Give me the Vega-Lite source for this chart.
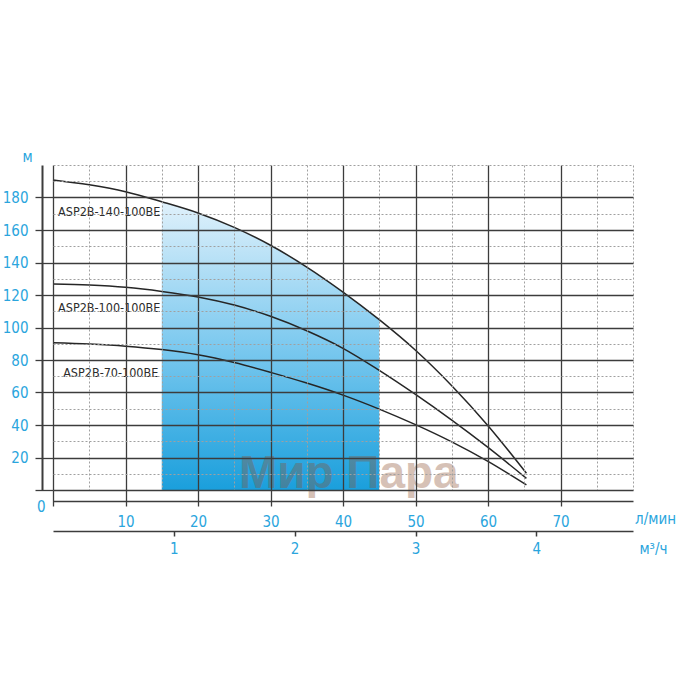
{
  "$schema": "https://vega.github.io/schema/vega-lite/v6.json",
  "width": 580,
  "height": 325,
  "autosize": "none",
  "padding": {"left": 53, "top": 165, "right": 67, "bottom": 210},
  "background": "white",
  "config": {
    "view": {"stroke": null},
    "font": "DejaVu Sans Condensed, Lato, sans-serif",
    "axis": {"labelFont": "DejaVu Sans Condensed, Lato, sans-serif", "titleFont": "DejaVu Sans Condensed, Lato, sans-serif"}
  },
  "datasets": {
    "curves": [
      {"model": "ASP2B-140-100BE", "q": 0, "h": 190.8},
      {"model": "ASP2B-140-100BE", "q": 5, "h": 187.8},
      {"model": "ASP2B-140-100BE", "q": 10, "h": 183.6},
      {"model": "ASP2B-140-100BE", "q": 15, "h": 177.4},
      {"model": "ASP2B-140-100BE", "q": 20, "h": 170.5},
      {"model": "ASP2B-140-100BE", "q": 25, "h": 161.6},
      {"model": "ASP2B-140-100BE", "q": 30, "h": 150.6},
      {"model": "ASP2B-140-100BE", "q": 35, "h": 137.2},
      {"model": "ASP2B-140-100BE", "q": 40, "h": 121.8},
      {"model": "ASP2B-140-100BE", "q": 45, "h": 104.8},
      {"model": "ASP2B-140-100BE", "q": 50, "h": 86.0},
      {"model": "ASP2B-140-100BE", "q": 55, "h": 64.2},
      {"model": "ASP2B-140-100BE", "q": 60, "h": 39.6},
      {"model": "ASP2B-140-100BE", "q": 65.3, "h": 10.3},
      {"model": "ASP2B-100-100BE", "q": 0, "h": 126.8},
      {"model": "ASP2B-100-100BE", "q": 5, "h": 126.1},
      {"model": "ASP2B-100-100BE", "q": 10, "h": 124.7},
      {"model": "ASP2B-100-100BE", "q": 15, "h": 122.2},
      {"model": "ASP2B-100-100BE", "q": 20, "h": 118.8},
      {"model": "ASP2B-100-100BE", "q": 25, "h": 113.8},
      {"model": "ASP2B-100-100BE", "q": 30, "h": 106.9},
      {"model": "ASP2B-100-100BE", "q": 35, "h": 98.0},
      {"model": "ASP2B-100-100BE", "q": 40, "h": 87.2},
      {"model": "ASP2B-100-100BE", "q": 45, "h": 73.6},
      {"model": "ASP2B-100-100BE", "q": 50, "h": 58.8},
      {"model": "ASP2B-100-100BE", "q": 55, "h": 43.0},
      {"model": "ASP2B-100-100BE", "q": 60, "h": 26.2},
      {"model": "ASP2B-100-100BE", "q": 65.3, "h": 7.2},
      {"model": "ASP2B-70-100BE", "q": 0, "h": 90.6},
      {"model": "ASP2B-70-100BE", "q": 5, "h": 89.8},
      {"model": "ASP2B-70-100BE", "q": 10, "h": 88.5},
      {"model": "ASP2B-70-100BE", "q": 15, "h": 86.4},
      {"model": "ASP2B-70-100BE", "q": 20, "h": 83.2},
      {"model": "ASP2B-70-100BE", "q": 25, "h": 78.4},
      {"model": "ASP2B-70-100BE", "q": 30, "h": 72.4},
      {"model": "ASP2B-70-100BE", "q": 35, "h": 65.8},
      {"model": "ASP2B-70-100BE", "q": 40, "h": 58.4},
      {"model": "ASP2B-70-100BE", "q": 45, "h": 49.8},
      {"model": "ASP2B-70-100BE", "q": 50, "h": 40.2},
      {"model": "ASP2B-70-100BE", "q": 55, "h": 29.6},
      {"model": "ASP2B-70-100BE", "q": 60, "h": 17.6},
      {"model": "ASP2B-70-100BE", "q": 65.3, "h": 3.1}
    ],
    "labels": [
      {"label": "ASP2B-140-100BE", "q": 0.7, "h": 171},
      {"label": "ASP2B-100-100BE", "q": 0.7, "h": 112},
      {"label": "ASP2B-70-100BE", "q": 1.4, "h": 72}
    ],
    "watermark": [
      {"text": "Мир Пара", "q": 40.8, "h": 1.2}
    ]
  },
  "layer": [
    {
      "encoding": {
        "x": {
          "field": "q", "type": "quantitative",
          "scale": {"domain": [0, 80], "nice": false, "zero": false},
          "axis": {
            "orient": "bottom",
            "zindex": 1,
            "values": [0, 5, 10, 15, 20, 25, 30, 35, 40, 45, 50, 55, 60, 65, 70, 75, 80],
            "domain": false,
            "grid": true,
            "gridColor": {"condition": {"test": "datum.value % 10 != 0 || datum.value == 80", "value": "#a0a0a0"}, "value": "#3c3c3c"},
            "gridDash": {"condition": {"test": "datum.value % 10 != 0 || datum.value == 80", "value": [2, 2]}, "value": []},
            "gridWidth": {"condition": {"test": "datum.value % 10 != 0 || datum.value == 80", "value": 1}, "value": 1.3},
            "gridOpacity": 1,
            "ticks": true,
            "tickSize": 16,
            "tickWidth": 1.3,
            "tickColor": "#3c3c3c",
            "tickOpacity": {"condition": {"test": "datum.value % 10 != 0 || datum.value == 80", "value": 0}, "value": 1},
            "labelExpr": "datum.value % 10 == 0 && datum.value > 0 && datum.value < 80 ? datum.label : ''",
            "labelOverlap": false,
            "labelFlush": false,
            "labelPadding": 8,
            "labelColor": "#2aa5dd",
            "labelFontSize": 15,
            "title": "л/мин",
            "titleColor": "#2aa5dd",
            "titleFontSize": 15,
            "titleFontWeight": "normal",
            "titleAlign": "center",
            "titleBaseline": "middle",
            "titleX": 602,
            "titleY": 28
          }
        },
        "y": {
          "field": "h", "type": "quantitative",
          "scale": {"domain": [0, 200], "nice": false},
          "axis": {
            "orient": "left",
            "zindex": 1,
            "values": [0, 10, 20, 30, 40, 50, 60, 70, 80, 90, 100, 110, 120, 130, 140, 150, 160, 170, 180, 190, 200],
            "domain": false,
            "grid": true,
            "gridColor": {"condition": {"test": "datum.value % 20 != 0 || datum.value == 200", "value": "#a0a0a0"}, "value": "#3c3c3c"},
            "gridDash": {"condition": {"test": "datum.value % 20 != 0 || datum.value == 200", "value": [2, 2]}, "value": []},
            "gridWidth": {"condition": {"test": "datum.value % 20 != 0 || datum.value == 200", "value": 1}, "value": 1.3},
            "gridOpacity": 1,
            "ticks": true,
            "tickSize": 18,
            "tickWidth": 1.3,
            "tickColor": "#3c3c3c",
            "tickOpacity": {"condition": {"test": "datum.value % 20 != 0 || datum.value == 200", "value": 0}, "value": 1},
            "labelExpr": "datum.value % 20 == 0 && datum.value < 200 ? datum.label : ''",
            "labelOverlap": false,
            "labelFlush": false,
            "labelPadding": {"condition": {"test": "datum.value == 0", "value": -10}, "value": 7},
            "labelOffset": {"condition": {"test": "datum.value == 0", "value": 16}, "value": 0},
            "labelColor": "#2aa5dd",
            "labelFontSize": 15,
            "title": "м",
            "titleColor": "#2aa5dd",
            "titleFontSize": 15,
            "titleFontWeight": "normal",
            "titleAngle": 0,
            "titleAlign": "center",
            "titleBaseline": "middle",
            "titleX": -26,
            "titleY": -9
          }
        }
      },
      "layer": [
        {
          "data": {"name": "curves"},
          "transform": [{"filter": "datum.model == 'ASP2B-140-100BE' && datum.q >= 15 && datum.q <= 45"}],
          "mark": {
            "type": "area",
            "interpolate": "catmull-rom",
            "fill": {
              "gradient": "linear", "x1": 0, "y1": 0, "x2": 0, "y2": 1,
              "stops": [
                {"offset": 0, "color": "#e0f1fb"},
                {"offset": 0.5, "color": "#7cc9ef"},
                {"offset": 1, "color": "#1a9fdc"}
              ]
            }
          },
          "encoding": {"y2": {"datum": 0}}
        },
        {
          "data": {"name": "curves"},
          "mark": {"type": "line", "interpolate": "catmull-rom", "strokeWidth": 1.5, "color": "#262626"},
          "encoding": {"detail": {"field": "model"}}
        },
        {
          "data": {"name": "labels"},
          "mark": {"type": "text", "align": "left", "baseline": "middle", "fontSize": 12.5, "color": "#2b2b2b"},
          "encoding": {"text": {"field": "label"}}
        },
        {
          "data": {"name": "watermark"},
          "mark": {"type": "text", "align": "center", "baseline": "alphabetic", "fontSize": 46, "fontWeight": "bold", "font": "Liberation Sans", "color": "#8b5030", "opacity": 0.35},
          "encoding": {"text": {"field": "text"}}
        }
      ]
    },
    {
      "data": {"values": [{"m3": 0}]},
      "mark": {"type": "point", "opacity": 0},
      "encoding": {
        "x": {
          "field": "m3", "type": "quantitative",
          "scale": {"domain": [0, 4.8], "nice": false, "zero": false},
          "axis": {
            "orient": "bottom",
            "offset": 41,
            "values": [1, 2, 3, 4],
            "grid": false,
            "domain": true,
            "domainColor": "#3c3c3c",
            "domainWidth": 1.5,
            "ticks": true,
            "tickSize": 5,
            "tickWidth": 1.5,
            "tickColor": "#3c3c3c",
            "labelPadding": 5,
            "labelColor": "#2aa5dd",
            "labelFontSize": 15,
            "labelFlush": false,
            "labelOverlap": false,
            "title": "м³/ч",
            "titleColor": "#2aa5dd",
            "titleFontSize": 15,
            "titleFontWeight": "normal",
            "titleAlign": "center",
            "titleBaseline": "middle",
            "titleX": 600,
            "titleY": 17
          }
        }
      }
    },
    {
      "data": {"values": [{"q": 0, "h": 0}]},
      "mark": {"type": "point", "opacity": 0},
      "encoding": {
        "x": {
          "field": "q", "type": "quantitative",
          "scale": {"domain": [0, 80], "nice": false, "zero": false},
          "axis": {"orient": "bottom", "offset": 11, "domain": true, "domainColor": "#3c3c3c", "domainWidth": 1.5, "ticks": false, "labels": false, "grid": false, "title": null}
        },
        "y": {
          "field": "h", "type": "quantitative",
          "scale": {"domain": [0, 200], "nice": false},
          "axis": {"orient": "left", "offset": 11, "domain": true, "domainColor": "#3c3c3c", "domainWidth": 2, "ticks": false, "labels": false, "grid": false, "title": null}
        }
      }
    }
  ],
  "resolve": {"scale": {"x": "independent", "y": "independent"}}
}
